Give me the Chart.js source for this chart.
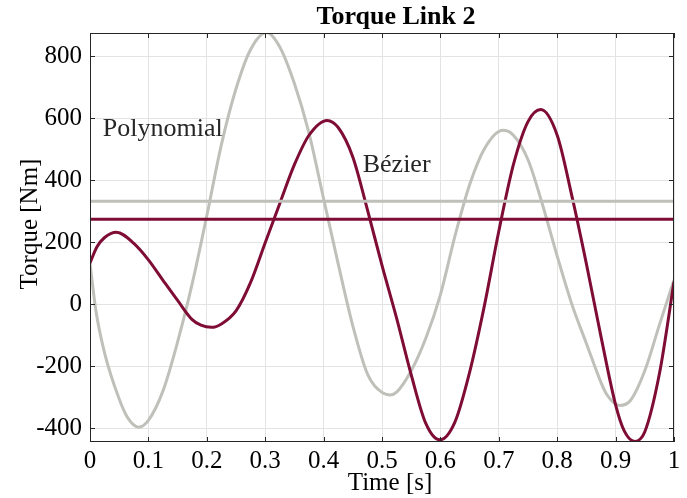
<!DOCTYPE html>
<html>
<head>
<meta charset="utf-8">
<script src="https://cdn.jsdelivr.net/npm/chart.js@4.4.0/dist/chart.umd.min.js"></script>
<style>
  html,body{margin:0;padding:0;background:#fff;}
  #wrap{width:687px;height:498px;}
</style>
</head>
<body>
<div id="wrap"><canvas id="torque" width="687" height="498"></canvas></div>
<script>
// Data
const polyT = [0, 0.01, 0.025, 0.05, 0.065, 0.083, 0.1, 0.125, 0.15, 0.175, 0.2, 0.225, 0.25, 0.275, 0.3025, 0.325, 0.35, 0.375, 0.4, 0.425, 0.45, 0.475, 0.5, 0.514, 0.525, 0.55, 0.575, 0.6, 0.625, 0.65, 0.675, 0.707, 0.725, 0.75, 0.775, 0.8, 0.825, 0.85, 0.875, 0.885, 0.907, 0.925, 0.95, 0.975, 1];
const polyTorque = [133, -20, -158, -306, -368, -397, -375, -280, -122, 66, 285, 515, 695, 822, 877, 830, 712, 552, 340, 130, -70, -225, -285, -293, -284, -215, -110, 30, 220, 385, 500, 561, 545, 466, 320, 155, 0, -127, -253, -292, -327, -312, -215, -67, 78];

const bezT = [0, 0.012, 0.025, 0.045, 0.075, 0.1, 0.125, 0.15, 0.175, 0.19, 0.208, 0.225, 0.25, 0.275, 0.3, 0.325, 0.35, 0.375, 0.406, 0.425, 0.45, 0.475, 0.5, 0.525, 0.55, 0.575, 0.599, 0.625, 0.65, 0.675, 0.7, 0.725, 0.75, 0.772, 0.8, 0.825, 0.85, 0.875, 0.9, 0.915, 0.933, 0.95, 0.975, 1];
const bezTorque = [133, 185, 215, 232, 196, 143, 77, 12, -50, -68, -75, -64, -22, 70, 198, 325, 450, 545, 593, 570, 475, 305, 125, -45, -228, -385, -438, -380, -220, -8, 235, 450, 589, 628, 545, 350, 130, -105, -325, -410, -443, -412, -225, 72];

const polyMean = 332;
const bezMean = 274;

const xTicks = [0, 0.1, 0.2, 0.3, 0.4, 0.5, 0.6, 0.7, 0.8, 0.9, 1];
const xTickLabels = ['0', '0.1', '0.2', '0.3', '0.4', '0.5', '0.6', '0.7', '0.8', '0.9', '1'];
const yTicks = [-400, -200, 0, 200, 400, 600, 800];
const yTickLabels = ['-400', '-200', '0', '200', '400', '600', '800'];

// label anchors in data units [text, time, torque]
const polyLabel = ['Polynomial', 0.022, 543];
const bezLabel = ['Bézier', 0.467, 428];

// Style
const SERIF = "'Liberation Serif', 'Times New Roman', Times, serif";
const GRAY = '#c0c0ba';
const MAROON = '#7e0c35';
const INK = '#262626';

const pts = (ts, vs) => ts.map((t, i) => ({ x: t, y: vs[i] }));
const flat = (v) => [{ x: 0, y: v }, { x: 1, y: v }];

// box, inward ticks, titles and curve labels
const decor = {
  id: 'decor',
  afterDraw(chart) {
    const { ctx, chartArea: a, scales: { x, y } } = chart;
    ctx.save();
    ctx.strokeStyle = INK;
    ctx.lineWidth = 1;
    ctx.strokeRect(a.left + 0.5, a.top + 0.5, a.right - a.left - 1, a.bottom - a.top - 1);
    ctx.beginPath();
    xTicks.forEach(v => {
      const px = Math.round(x.getPixelForValue(v)) + 0.5;
      ctx.moveTo(px, a.top); ctx.lineTo(px, a.top + 5);
      ctx.moveTo(px, a.bottom); ctx.lineTo(px, a.bottom - 5);
    });
    yTicks.forEach(v => {
      const py = Math.round(y.getPixelForValue(v)) + 0.5;
      ctx.moveTo(a.left, py); ctx.lineTo(a.left + 5, py);
      ctx.moveTo(a.right, py); ctx.lineTo(a.right - 5, py);
    });
    ctx.stroke();

    ctx.fillStyle = '#000';
    ctx.font = `bold 26px ${SERIF}`;
    ctx.textAlign = 'center';
    ctx.textBaseline = 'alphabetic';
    ctx.fillText('Torque Link 2', 396, 24);

    ctx.font = `25px ${SERIF}`;
    ctx.fillText('Time [s]', 390, 490);
    ctx.save();
    ctx.translate(30, 224);
    ctx.rotate(-Math.PI / 2);
    ctx.textBaseline = 'middle';
    ctx.fillText('Torque [Nm]', 0, 0);
    ctx.restore();

    ctx.font = `26px ${SERIF}`;
    ctx.fillStyle = INK;
    ctx.textAlign = 'left';
    [polyLabel, bezLabel].forEach(([txt, t, v]) => {
      ctx.fillText(txt, x.getPixelForValue(t), y.getPixelForValue(v));
    });
    ctx.restore();
  }
};

const lineDs = (data, color, order) => ({
  data, borderColor: color, borderWidth: 3, pointRadius: 0,
  cubicInterpolationMode: 'monotone', fill: false, order
});

new Chart(document.getElementById('torque'), {
  type: 'line',
  data: {
    datasets: [
      lineDs(pts(polyT, polyTorque), GRAY, 4),
      lineDs(pts(bezT, bezTorque), MAROON, 3),
      lineDs(flat(polyMean), GRAY, 2),
      lineDs(flat(bezMean), MAROON, 1)
    ]
  },
  options: {
    responsive: false,
    devicePixelRatio: 1,
    animation: false,
    layout: { padding: { left: 0, right: 13, top: 33, bottom: 0 } },
    plugins: { legend: { display: false }, tooltip: { enabled: false } },
    scales: {
      x: {
        type: 'linear', min: 0, max: 1,
        afterBuildTicks: s => { s.ticks = xTicks.map(v => ({ value: v })); },
        afterFit: s => { s.height = 56; },
        ticks: {
          callback: v => xTickLabels[xTicks.indexOf(v)],
          font: { family: SERIF, size: 25 }, color: '#000',
          padding: 4, maxRotation: 0, autoSkip: false
        },
        grid: { color: '#e3e3e3', drawTicks: false },
        border: { display: false }
      },
      y: {
        type: 'linear', min: -445, max: 875,
        afterBuildTicks: s => { s.ticks = yTicks.map(v => ({ value: v })); },
        afterFit: s => { s.width = 90; },
        ticks: {
          callback: v => yTickLabels[yTicks.indexOf(v)],
          font: { family: SERIF, size: 25 }, color: '#000',
          padding: 8, autoSkip: false
        },
        grid: { color: '#e3e3e3', drawTicks: false },
        border: { display: false }
      }
    }
  },
  plugins: [decor]
});
</script>
</body>
</html>
